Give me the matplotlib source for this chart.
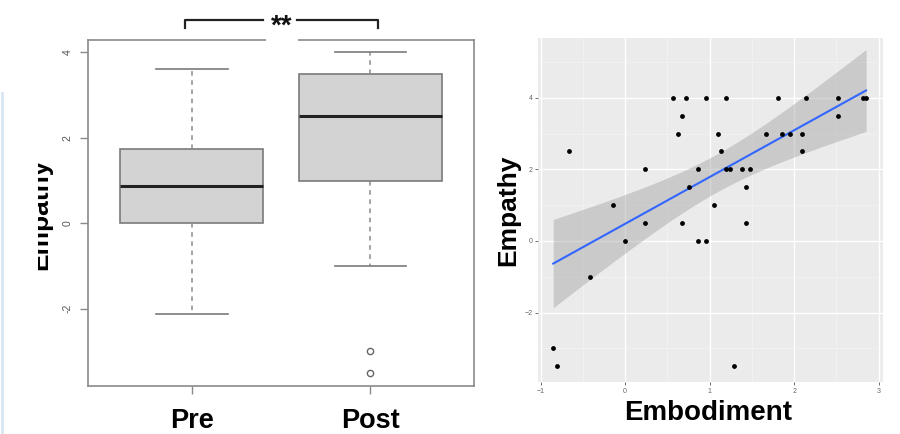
import numpy as np
import matplotlib
matplotlib.use("Agg")
import matplotlib.pyplot as plt
from matplotlib.lines import Line2D
from matplotlib.patches import Rectangle
from matplotlib.transforms import Bbox
from matplotlib.ticker import MultipleLocator

plt.rcParams['font.family'] = ['Liberation Sans', 'DejaVu Sans']

# boxplot summary
groups = ['Pre', 'Post']
q1 = [0.0, 1.0]
medians = [0.87, 2.5]
q3 = [1.74, 3.5]
whisk_lo = [-2.13, -1.0]
whisk_hi = [3.62, 4.0]
outliers = [[], [-3.0, -3.5]]

# scatter: embodiment vs empathy
embodiment = [0.57, 0.72, 0.955, 1.19, 1.81, 2.14, 2.52, 2.81, 2.85,
              0.67, 2.52,
              0.62, 1.10, 1.67, 1.85, 1.95, 2.09,
              -0.66, 1.14, 2.09,
              0.24, 0.86, 1.19, 1.24, 1.38, 1.48,
              0.76, 1.43,
              -0.14, 1.05,
              0.24, 0.67, 1.43,
              0.0, 0.86, 0.955,
              -0.42,
              -0.85,
              -0.80, 1.29]
empathy = [4, 4, 4, 4, 4, 4, 4, 4, 4,
           3.5, 3.5,
           3, 3, 3, 3, 3, 3,
           2.5, 2.5, 2.5,
           2, 2, 2, 2, 2, 2,
           1.5, 1.5,
           1, 1,
           0.5, 0.5, 0.5,
           0, 0, 0,
           -1,
           -3,
           -3.5, -3.5]

W, H = 900, 434
fig = plt.figure(figsize=(W / 100, H / 100), dpi=100)

# ---------------- left: boxplot ----------------
ax1 = fig.add_axes([88 / W, 1 - 386 / H, (474 - 88) / W, (386 - 40) / H])
stats = []
for i in range(2):
    stats.append(dict(med=medians[i], q1=q1[i], q3=q3[i],
                      whislo=whisk_lo[i], whishi=whisk_hi[i],
                      fliers=outliers[i], label=groups[i]))
ax1.bxp(stats, positions=[1, 2], widths=0.8, patch_artist=True,
        capwidths=0.4,
        boxprops=dict(facecolor='#d3d3d3', edgecolor='#7a7a7a', linewidth=1.2),
        medianprops=dict(color='#222222', linewidth=2.2),
        whiskerprops=dict(color='#8a8a8a', linestyle=(0, (3, 3)), linewidth=1.1),
        capprops=dict(color='#7a7a7a', linewidth=1.2),
        flierprops=dict(marker='o', markerfacecolor='none', markeredgecolor='#666666',
                        markersize=4.5, markeredgewidth=1.0))
ax1.set_xlim(0.418, 2.58)
ax1.set_ylim(-3.81, 4.29)
ax1.set_yticks([-2, 0, 2, 4])
ax1.set_yticklabels(['-2', '0', '2', '4'], rotation=90, va='center')
for s in ax1.spines.values():
    s.set_color('#8a8a8a')
    s.set_linewidth(1.2)
ax1.tick_params(axis='y', length=6, width=1, color='#8a8a8a', pad=5,
                labelsize=7.5, labelcolor='#555555')
ax1.tick_params(axis='x', length=6, width=1, color='#8a8a8a', pad=24,
                labelsize=19.5)
for t in ax1.get_xticklabels():
    t.set_fontweight('bold')
    t.set_verticalalignment('baseline')

# significance bracket
tr = ax1.get_xaxis_transform()
ax1.add_line(Line2D([0.962, 0.962, 1.40], [1.035, 1.058, 1.058], transform=tr,
                    color='#222222', lw=1.6, clip_on=False))
ax1.add_line(Line2D([1.59, 2.045, 2.045], [1.058, 1.058, 1.035], transform=tr,
                    color='#222222', lw=1.6, clip_on=False))
ax1.text(1.5, 1.040, '**', transform=tr, ha='center', va='center',
         fontsize=20, fontweight='bold', color='#111111', clip_on=False)
# gap in the top frame under the stars
fig.add_artist(Rectangle((266 / W, 1 - 44 / H), 32 / W, 8 / H,
                         transform=fig.transFigure, facecolor='white',
                         edgecolor='none', zorder=5))

# y label of the left panel, cut off at the left
lab = fig.text(52 / W, 1 - 214 / H, 'Empathy', rotation=90, ha='right',
               va='center', fontsize=19, fontweight='bold')
lab.set_clip_box(Bbox.from_extents(38, 0, W, H))
lab.set_clip_on(True)

# faint blue strip at the far left edge
fig.add_artist(Line2D([1.5 / W, 1.5 / W], [0, 1 - 93 / H], transform=fig.transFigure,
                      color='#d6e6f4', lw=2))

# ---------------- right: scatter + lm ----------------
ax2 = fig.add_axes([538 / W, 1 - 382 / H, (883 - 538) / W, (382 - 38) / H])
ax2.set_facecolor('#ebebeb')
xs = np.array(embodiment)
ys = np.array(empathy)
n = len(xs)
slope, icpt = np.polyfit(xs, ys, 1)
xg = np.linspace(xs.min(), xs.max(), 80)
yg = icpt + slope * xg
resid = ys - (icpt + slope * xs)
s_err = np.sqrt(np.sum(resid ** 2) / (n - 2))
sxx = np.sum((xs - xs.mean()) ** 2)
se = s_err * np.sqrt(1 / n + (xg - xs.mean()) ** 2 / sxx)
tval = 2.024
ax2.fill_between(xg, yg - tval * se, yg + tval * se, color='#999999',
                 alpha=0.4, linewidth=0, zorder=2)
ax2.plot(xg, yg, color='#3366ff', lw=1.5, zorder=3)
ax2.scatter(xs, ys, s=12, color='black', zorder=4, linewidths=0)

ax2.set_xlim(-1.03, 3.05)
ax2.set_ylim(-3.94, 5.67)
ax2.xaxis.set_major_locator(MultipleLocator(1))
ax2.yaxis.set_major_locator(MultipleLocator(2))
ax2.xaxis.set_minor_locator(MultipleLocator(0.5))
ax2.yaxis.set_minor_locator(MultipleLocator(1))
ax2.grid(which='major', color='white', lw=1.0)
ax2.grid(which='minor', color='#f5f5f5', lw=0.5)
ax2.set_axisbelow(True)
for s in ax2.spines.values():
    s.set_visible(False)
ax2.tick_params(which='major', length=2, width=0.6, color='#555555', pad=2,
                labelsize=5, labelcolor='#666666')
ax2.tick_params(which='minor', length=0)

fig.text(520 / W, 1 - 210 / H, 'Empathy', rotation=90, ha='right', va='center',
         fontsize=19, fontweight='bold')
fig.text(708 / W, 1 - 413 / H, 'Embodiment', ha='center', va='center',
         fontsize=20, fontweight='bold')

fig.savefig('out.png', dpi=100)
